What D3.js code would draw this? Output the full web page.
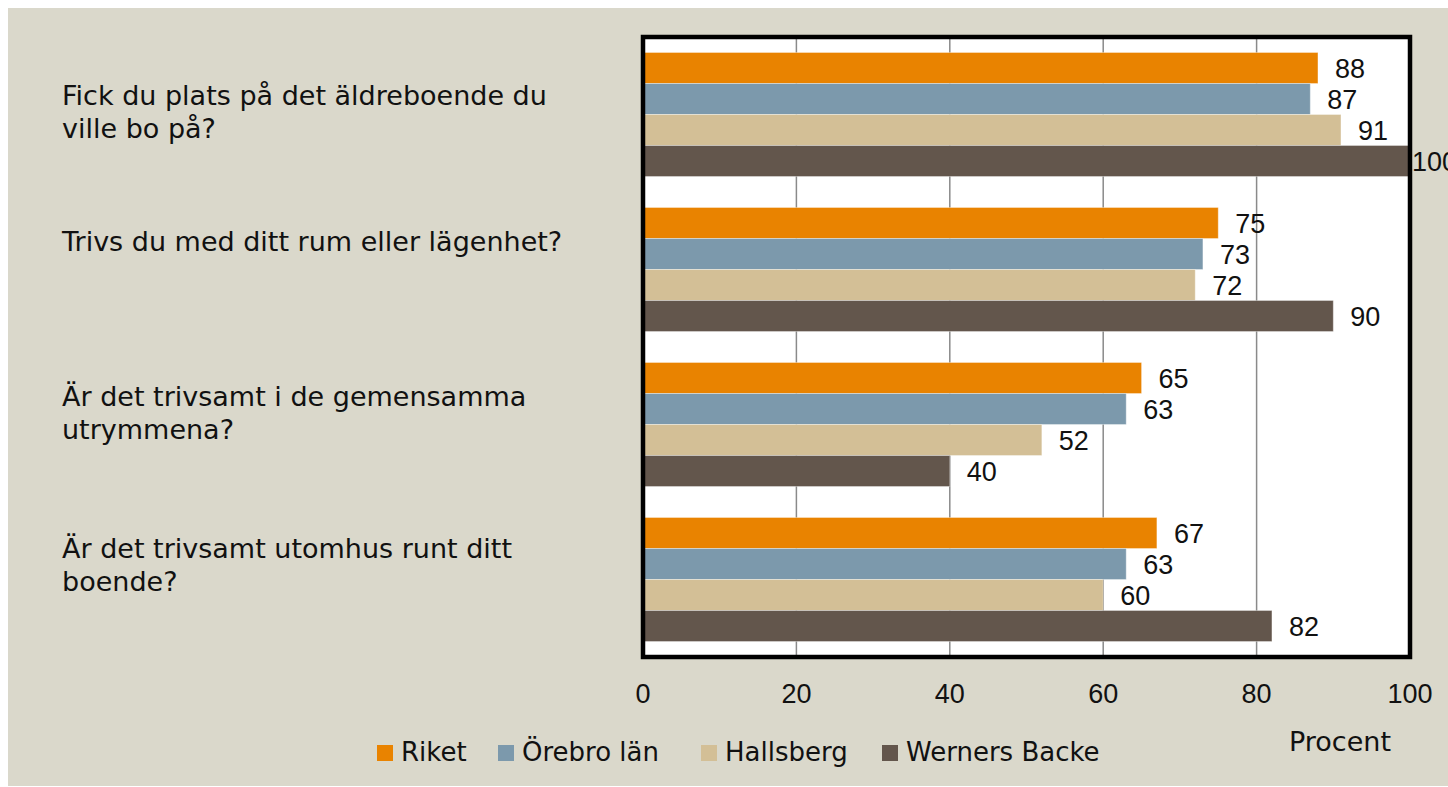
<!DOCTYPE html>
<html>
<head>
<meta charset="utf-8">
<script src="https://cdn.jsdelivr.net/npm/d3@7"></script>
<style>
  body { margin: 0; background: #fff; }
  svg { display: block; font-family: "DejaVu Sans", sans-serif; }
  .num { font-family: "Liberation Sans", Arial, sans-serif; }
</style>
</head>
<body>
<div id="chart"></div>
<script>
// Chart data
var questions = [
  ["Fick du plats på det äldreboende du", "ville bo på?"],
  ["Trivs du med ditt rum eller lägenhet?"],
  ["Är det trivsamt i de gemensamma", "utrymmena?"],
  ["Är det trivsamt utomhus runt ditt", "boende?"]
];
var seriesNames = ["Riket", "Örebro län", "Hallsberg", "Werners Backe"];
var riket = [88, 75, 65, 67];
var orebro = [87, 73, 63, 63];
var hallsberg = [91, 72, 52, 60];
var werners = [100, 90, 40, 82];
var xTicks = [0, 20, 40, 60, 80, 100];
var colors = ["#E98300", "#7C99AC", "#D3BF96", "#63564C"];

var seriesValues = [riket, orebro, hallsberg, werners];

// layout (text boxes were placed by hand in the original)
var labelBaseline = [52, 43, 43, 40];
var legendX = [377, 498, 701, 882];

var width = 1448, height = 787;
var plot = { left: 643, top: 37, right: 1410, bottom: 657 };

var svg = d3.select("#chart").append("svg")
  .attr("width", width)
  .attr("height", height);

// background panel
svg.append("rect")
  .attr("x", 8).attr("y", 8)
  .attr("width", width - 8).attr("height", height - 9)
  .attr("fill", "#DAD8CB");

svg.append("rect")
  .attr("x", plot.left).attr("y", plot.top)
  .attr("width", plot.right - plot.left).attr("height", plot.bottom - plot.top)
  .attr("fill", "#fff");

var x = d3.scaleLinear().domain([0, 100]).range([plot.left, plot.right]);
var y0 = d3.scaleBand().domain(d3.range(questions.length))
  .range([plot.top, plot.bottom]).paddingInner(0.2).paddingOuter(0.1);
var y1 = d3.scaleBand().domain(d3.range(seriesNames.length))
  .range([0, y0.bandwidth()]);

// grid lines
svg.append("g").selectAll("line")
  .data(xTicks.slice(1, -1))
  .enter().append("line")
  .attr("x1", function(d) { return x(d); })
  .attr("x2", function(d) { return x(d); })
  .attr("y1", plot.top).attr("y2", plot.bottom)
  .attr("stroke", "#8a8a8a")
  .attr("stroke-width", 1.5);

// bars + value labels
var groups = svg.append("g").selectAll("g")
  .data(questions)
  .enter().append("g")
  .attr("transform", function(d, i) { return "translate(0," + y0(i) + ")"; });

groups.each(function(q, qi) {
  var g = d3.select(this);
  seriesValues.forEach(function(vals, si) {
    g.append("rect")
      .attr("x", x(0))
      .attr("y", y1(si))
      .attr("width", x(vals[qi]) - x(0))
      .attr("height", y1.bandwidth())
      .attr("fill", colors[si])
      .attr("stroke", "rgba(255,255,255,0.35)")
      .attr("stroke-width", 1);
    g.append("text")
      .attr("class", "num")
      .attr("x", Math.min(x(vals[qi]) + 17, plot.right + 2))
      .attr("y", y1(si) + y1.bandwidth() / 2)
      .attr("dy", "0.36em")
      .style("font-size", "27px")
      .attr("fill", "#111")
      .text(vals[qi]);
  });
});

// frame
svg.append("rect")
  .attr("x", plot.left).attr("y", plot.top)
  .attr("width", plot.right - plot.left).attr("height", plot.bottom - plot.top)
  .attr("fill", "none")
  .attr("stroke", "#000")
  .attr("stroke-width", 4.5);

// x tick labels
svg.append("g").selectAll("text")
  .data(xTicks)
  .enter().append("text")
  .attr("class", "num")
  .attr("x", function(d) { return x(d); })
  .attr("y", 693)
  .attr("dy", "0.36em")
  .attr("text-anchor", "middle")
  .style("font-size", "27px")
  .attr("fill", "#111")
  .text(function(d) { return d; });

svg.append("text")
  .attr("x", 1340).attr("y", 751)
  .attr("text-anchor", "middle")
  .style("font-size", "27px")
  .attr("fill", "#111")
  .text("Procent");

// question labels
svg.append("g").selectAll("text")
  .data(questions)
  .enter().append("text")
  .attr("x", 62)
  .attr("y", function(d, i) { return y0(i) + labelBaseline[i]; })
  .style("font-size", "27px")
  .attr("fill", "#111")
  .each(function(lines) {
    var t = d3.select(this);
    lines.forEach(function(line, li) {
      t.append("tspan")
        .attr("x", 62)
        .attr("dy", li === 0 ? 0 : 33)
        .text(line);
    });
  });

// legend
var legend = svg.append("g").selectAll("g")
  .data(seriesNames)
  .enter().append("g")
  .attr("transform", function(d, i) { return "translate(" + legendX[i] + ",761)"; });

legend.append("rect")
  .attr("x", 0).attr("y", -16)
  .attr("width", 16).attr("height", 16)
  .attr("fill", function(d, i) { return colors[i]; });

legend.append("text")
  .attr("x", 24).attr("y", 0)
  .style("font-size", "26px")
  .attr("fill", "#111")
  .text(function(d) { return d; });
</script>
</body>
</html>
